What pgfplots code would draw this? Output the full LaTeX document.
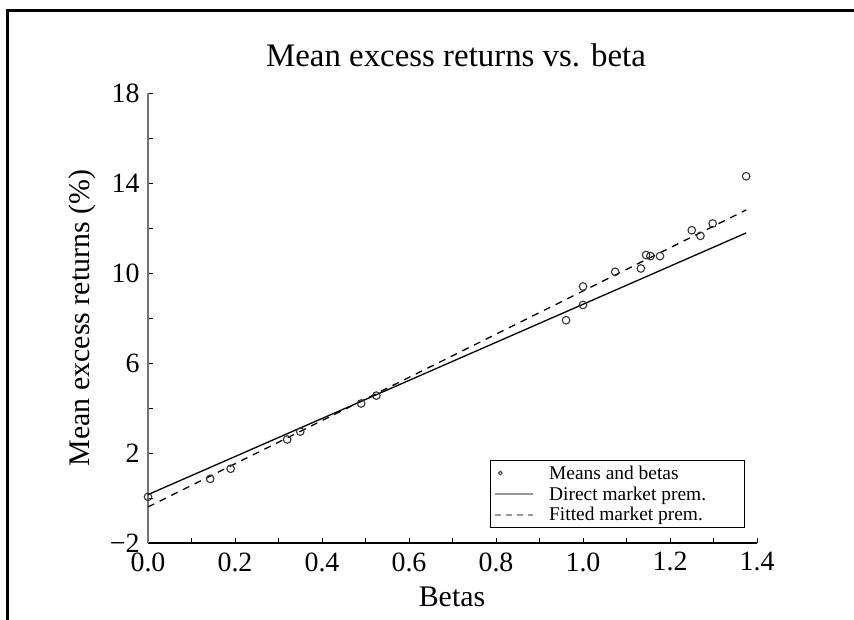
\documentclass[border=0pt]{standalone}
\usepackage{fontspec}
\setmainfont{Liberation Serif}
\usepackage{pgfplots}
\usepackage{pgfplotstable}
\pgfplotsset{compat=1.18}

% portfolio betas and mean excess returns (%)
\pgfplotstableread{
beta  mean
0.000 0.05
0.143 0.85
0.190 1.30
0.320 2.60
0.350 2.95
0.490 4.20
0.525 4.55
0.961 7.90
1.000 8.58
1.000 9.40
1.074 10.05
1.133 10.20
1.145 10.80
1.155 10.75
1.177 10.75
1.250 11.90
1.270 11.65
1.298 12.20
1.375 14.30
}\portfolios

\begin{document}
\begin{tikzpicture}[x=1bp,y=1bp]
\path[use as bounding box] (0,0) rectangle (854,620);
\draw[line width=3bp] (7,0) -- (7,609) -- (854,609);

\begin{axis}[
    at={(148bp,77bp)}, anchor=south west,
    scale only axis, width=609bp, height=450bp,
    xmin=0, xmax=1.4, ymin=-2, ymax=18,
    axis x line=bottom, axis y line=left,
    axis line style={-},
    x axis line style={line width=2bp, black},
    y axis line style={line width=2.5bp, black!55},
    tick align=inside,
    major tick length=5bp, minor tick length=5bp,
    tick style={black, line width=0.8bp},
    xtick={0,0.2,0.4,0.6,0.8,1.0,1.2,1.4},
    xticklabels={0.0,0.2,0.4,0.6,0.8,1.0,1.2,1.4},
    minor xtick={0.1,0.3,0.5,0.7,0.9,1.1,1.3},
    ytick={-2,2,6,10,14,18},
    yticklabels={−2,2,6,10,14,18},
    minor ytick={0,4,8,12,16},
    tick label style={font=\fontsize{28}{28}\selectfont},
    xticklabel style={yshift=-6bp},
    yticklabel style={xshift=-5bp},
    legend style={at={(0.98,0.033)}, anchor=south east, draw=black,
        line width=1.3bp, inner sep=4bp, row sep=4bp, column sep=14bp,
        nodes={inner sep=1bp},
        font=\fontsize{19.5}{19.5}\selectfont},
    legend cell align=left,
]
\addplot[black, line width=1.3bp, forget plot] coordinates {(0,0.15) (1.375,11.78)};
\addplot[black, line width=1.3bp, dash pattern=on 7bp off 6bp, forget plot] coordinates {(0,-0.4) (1.375,12.8)};
\addplot[only marks, mark=o, mark size=3.8bp, black!80, mark options={line width=1.1bp}, forget plot]
    table[x=beta, y=mean] {\portfolios};

\addlegendimage{legend image code/.code={\path[draw=none] (0,0) -- (38bp,0); \draw[black!75, line width=1bp] (5bp,0) circle (1.8bp);}}
\addlegendentry{\makebox[190bp][l]{Means and betas}}
\addlegendimage{legend image code/.code={\draw[black!40, line width=1.5bp] (0,0) -- (38bp,0);}}
\addlegendentry{\makebox[190bp][l]{Direct market prem.}}
\addlegendimage{legend image code/.code={\draw[black!40, line width=1.5bp, dash pattern=on 6bp off 5bp] (0,0) -- (38bp,0);}}
\addlegendentry{\makebox[190bp][l]{Fitted market prem.}}
\end{axis}

\node[font=\fontsize{33}{33}\selectfont] at (456,565) {Mean excess returns vs. beta};
\node[font=\fontsize{30}{30}\selectfont] at (452,23) {Betas};
\node[rotate=90, font=\fontsize{30}{30}\selectfont] at (82,302) {Mean excess returns (\%)};
\end{tikzpicture}
\end{document}
